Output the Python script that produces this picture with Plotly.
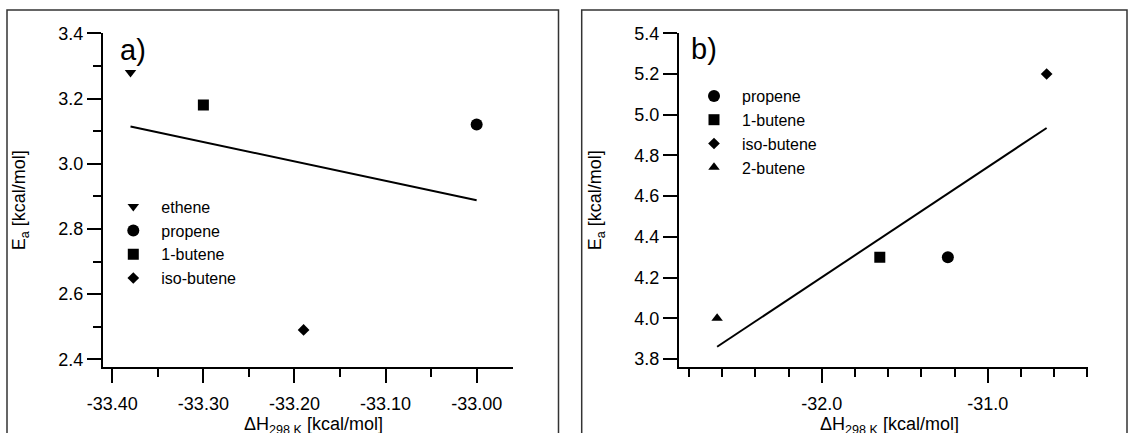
import plotly.graph_objects as go

W, H = 1130, 433

# ---------------- data ----------------
species_a = ["ethene", "propene", "1-butene", "iso-butene"]
dH_a = [-33.38, -33.00, -33.30, -33.19]
Ea_a = [3.28, 3.12, 3.18, 2.49]
fit_a_x = [-33.38, -33.00]
fit_a_y = [3.114, 2.888]

species_b = ["propene", "1-butene", "iso-butene", "2-butene"]
dH_b = [-31.24, -31.65, -30.645, -32.63]
Ea_b = [4.30, 4.30, 5.20, 4.00]
fit_b_x = [-32.63, -30.645]
fit_b_y = [3.860, 4.935]

xticks_a = [-33.40, -33.30, -33.20, -33.10, -33.00]
xticklabels_a = ["-33.40", "-33.30", "-33.20", "-33.10", "-33.00"]
xminor_a = [-33.35, -33.25, -33.15, -33.05]
yticks_a = [2.4, 2.6, 2.8, 3.0, 3.2, 3.4]
yticklabels_a = ["2.4", "2.6", "2.8", "3.0", "3.2", "3.4"]
yminor_a = [2.5, 2.7, 2.9, 3.1, 3.3]

xticks_b = [-32.0, -31.0]
xticklabels_b = ["-32.0", "-31.0"]
xminor_b = [-32.8, -32.6, -32.4, -32.2, -31.8, -31.6, -31.4, -31.2, -30.8, -30.6, -30.4]
yticks_b = [3.8, 4.0, 4.2, 4.4, 4.6, 4.8, 5.0, 5.2, 5.4]
yticklabels_b = ["3.8", "4.0", "4.2", "4.4", "4.6", "4.8", "5.0", "5.2", "5.4"]

x_title = "ΔH<sub>298 K</sub> [kcal/mol]"
y_title = "E<sub>a</sub> [kcal/mol]"

# ---------------- style ----------------
FONT = "Liberation Sans, Arial, sans-serif"
TICKSIZE = 18
symbols = {"ethene": "triangle-down", "propene": "circle", "1-butene": "square",
           "iso-butene": "diamond", "2-butene": "triangle-up"}
sizes = {"ethene": 10, "propene": 12, "1-butene": 11, "iso-butene": 9, "2-butene": 10}


def px_x(p):
    return p / W


def px_y(p):
    return 1 - p / H


fig = go.Figure()

# panel a
for name, x, y in zip(species_a, dH_a, Ea_a):
    fig.add_trace(go.Scatter(x=[x], y=[y], mode="markers", name=name,
                             marker=dict(symbol=symbols[name], size=sizes[name], color="black",
                                         line=dict(width=0)),
                             xaxis="x", yaxis="y", legend="legend"))
fig.add_trace(go.Scatter(x=fit_a_x, y=fit_a_y, mode="lines", line=dict(color="black", width=2),
                         showlegend=False, xaxis="x", yaxis="y"))

# panel b
for name, x, y in zip(species_b, dH_b, Ea_b):
    fig.add_trace(go.Scatter(x=[x], y=[y], mode="markers", name=name,
                             marker=dict(symbol=symbols[name], size=sizes[name], color="black",
                                         line=dict(width=0)),
                             xaxis="x2", yaxis="y2", legend="legend2"))
fig.add_trace(go.Scatter(x=fit_b_x, y=fit_b_y, mode="lines", line=dict(color="black", width=2),
                         showlegend=False, xaxis="x2", yaxis="y2"))

axis_common = dict(showline=True, linecolor="black", linewidth=2, ticks="outside",
                   ticklen=14, tickwidth=2, tickcolor="black", showgrid=False, zeroline=False,
                   automargin=False,
                   tickfont=dict(family=FONT, size=TICKSIZE, color="black"))

minor_common = dict(tickmode="array", ticklen=8, tickwidth=2, tickcolor="black",
                    ticks="outside", showgrid=False)

ydom = [px_y(367.3), px_y(33.3)]
xdom_a = [px_x(103), px_x(513)]
xdom_b = [px_x(679), px_x(1088.3)]
ytitle = dict(text=y_title, font=dict(family=FONT, size=18, color="black"), standoff=28)

LEGFONT = 16

fig.update_layout(
    template="none",
    width=W, height=H,
    margin=dict(l=0, r=0, t=0, b=0, pad=0, autoexpand=False),
    paper_bgcolor="white", plot_bgcolor="white",
    font=dict(family=FONT, color="black"),
    xaxis=dict(domain=xdom_a, range=[-33.4102, -32.9601], anchor="y",
               tickmode="array", tickvals=xticks_a, ticktext=xticklabels_a,
               minor=dict(tickvals=xminor_a, **minor_common), ticklabelstandoff=5,
               **axis_common),
    yaxis=dict(domain=ydom, range=[2.3755, 3.4], anchor="x",
               tickmode="array", tickvals=yticks_a, ticktext=yticklabels_a,
               minor=dict(tickvals=yminor_a, **minor_common),
               title=ytitle, **axis_common),
    xaxis2=dict(domain=xdom_b, range=[-32.8596, -30.394], anchor="y2",
                tickmode="array", tickvals=xticks_b, ticktext=xticklabels_b,
                minor=dict(tickvals=xminor_b, **minor_common), ticklabelstandoff=5,
                **axis_common),
    yaxis2=dict(domain=ydom, range=[3.7592, 5.4], anchor="x2",
                tickmode="array", tickvals=yticks_b, ticktext=yticklabels_b,
                title=ytitle, **axis_common),
    legend=dict(x=px_x(133.3 - 28), y=px_y(206.7 - 17), xanchor="left", yanchor="top",
                bgcolor="rgba(0,0,0,0)", borderwidth=0, itemwidth=46,
                font=dict(family=FONT, size=LEGFONT, color="black"), tracegroupgap=0),
    legend2=dict(x=px_x(714 - 28), y=px_y(96 - 17), xanchor="left", yanchor="top",
                 bgcolor="rgba(0,0,0,0)", borderwidth=0, itemwidth=46,
                 font=dict(family=FONT, size=LEGFONT, color="black"), tracegroupgap=0),
    showlegend=True,
)

# x-axis titles (placed low, partly cut by the page edge as in the reference)
for dom in (xdom_a, xdom_b):
    fig.add_annotation(text=x_title, xref="paper", yref="paper",
                       x=(dom[0] + dom[1]) / 2 + 6 / W, y=px_y(412),
                       xanchor="center", yanchor="top", showarrow=False,
                       font=dict(family=FONT, size=18, color="black"))

# outer frames
for x0, x1 in [(7, 558.5), (581.7, 1127)]:
    fig.add_shape(type="rect", xref="paper", yref="paper",
                  x0=px_x(x0), x1=px_x(x1), y0=px_y(460), y1=px_y(10),
                  line=dict(color="#333333", width=1.5), fillcolor="rgba(0,0,0,0)", layer="below")

# panel labels
fig.add_annotation(text="a)", xref="paper", yref="paper", x=px_x(118), y=px_y(50),
                   xanchor="left", yanchor="middle", showarrow=False,
                   font=dict(family=FONT, size=29, color="black"))
fig.add_annotation(text="b)", xref="paper", yref="paper", x=px_x(689), y=px_y(49),
                   xanchor="left", yanchor="middle", showarrow=False,
                   font=dict(family=FONT, size=29, color="black"))

fig.write_html("out.html")
